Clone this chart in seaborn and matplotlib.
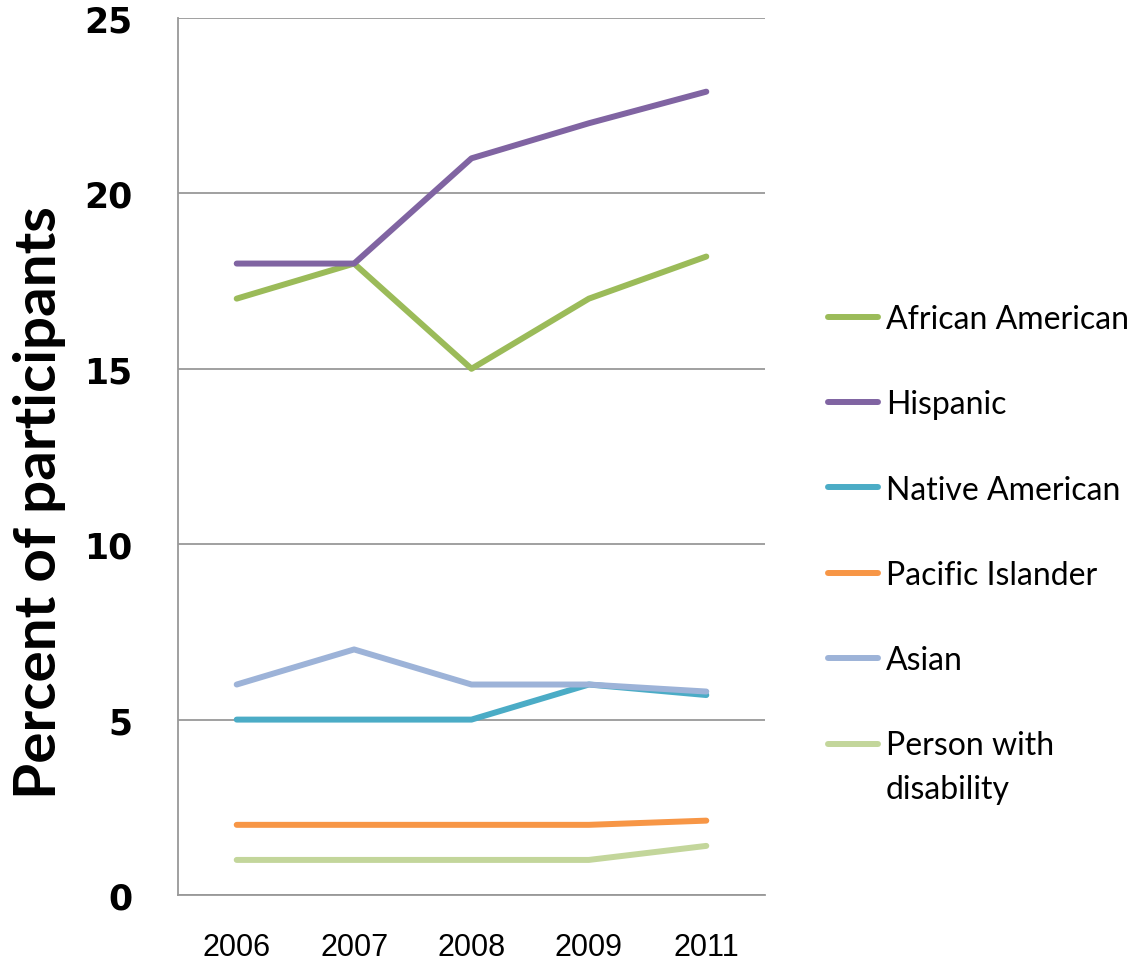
import matplotlib
matplotlib.use("Agg")
import matplotlib.pyplot as plt
import seaborn as sns
import pandas as pd
from matplotlib.lines import Line2D
from matplotlib.legend_handler import HandlerLine2D

years = ["2006", "2007", "2008", "2009", "2011"]
african_american = [17, 18, 15, 17, 18.2]
hispanic = [18, 18, 21, 22, 22.9]
native_american = [5, 5, 5, 6, 5.7]
pacific_islander = [2, 2, 2, 2, 2.12]
asian = [6, 7, 6, 6, 5.8]
disability = [1, 1, 1, 1, 1.4]

series_names = ["African American", "Hispanic", "Native American",
                "Pacific Islander", "Asian", "Person with\ndisability"]
series_vals = [african_american, hispanic, native_american,
               pacific_islander, asian, disability]
colors = ["#9BBB59", "#8064A2", "#4BACC6", "#F79646", "#9DB3D8", "#C3D69B"]

rows = []
for name, vals in zip(series_names, series_vals):
    for i, (y, v) in enumerate(zip(years, vals)):
        rows.append({"idx": i, "year": y, "value": v, "series": name})
df = pd.DataFrame(rows)

sns.set_style("white")
plt.rcParams["text.color"] = "black"
plt.rcParams["xtick.color"] = "black"
plt.rcParams["ytick.color"] = "black"
plt.rcParams["axes.labelcolor"] = "black"

fig = plt.figure(figsize=(11.45, 9.62), dpi=100)
ax = fig.add_axes([178/1145, 1-896/962, (765-178)/1145, (896-19)/962])

sns.lineplot(data=df, x="idx", y="value", hue="series", hue_order=series_names,
             palette=colors, linewidth=4.3, ax=ax, legend=False,
             solid_capstyle="round", solid_joinstyle="round", sort=False)

ax.set_xlim(-0.5, 4.5)
ax.set_ylim(0, 25)
ax.set_xticks(range(len(years)))
ax.set_xticklabels(years, fontsize=22, family="Liberation Sans")
ax.set_yticks([0, 5, 10, 15, 20, 25])
ax.set_yticklabels(["0", "5", "10", "15", "20", "25"], fontsize=25,
                   fontweight="bold", family="DejaVu Sans")
ax.tick_params(axis="x", length=0, pad=27, labelcolor="black")
ax.tick_params(axis="y", length=0, pad=33, labelcolor="black")
ax.yaxis.grid(True, color="#999999", linewidth=1.3)
ax.set_axisbelow(True)
for s in ["top", "right"]:
    ax.spines[s].set_visible(False)
for s in ["left", "bottom"]:
    ax.spines[s].set_color("#999999")
    ax.spines[s].set_linewidth(1.3)
ax.set_xlabel("")
ax.set_ylabel("Percent of participants", fontsize=42, fontweight="bold",
              family="Lato", color="black")
ax.yaxis.set_label_coords(-0.19, 0.449)


class ShiftedLineHandler(HandlerLine2D):
    def __init__(self, shift_pts, **kw):
        super().__init__(**kw)
        self.shift_pts = shift_pts

    def create_artists(self, legend, orig_handle, xdescent, ydescent,
                       width, height, fontsize, trans):
        arts = super().create_artists(legend, orig_handle, xdescent, ydescent,
                                      width, height, fontsize, trans)
        for a in arts:
            a.set_ydata([y + self.shift_pts for y in a.get_ydata()])
        return arts


handles = [Line2D([0], [0], color=c, linewidth=4.3) for c in colors]
leg = ax.legend(handles, series_names, loc="center left",
                bbox_to_anchor=(1.058, 0.389), frameon=False,
                prop={"family": "Lato", "size": 23},
                handlelength=1.57, handletextpad=0.25, labelspacing=1.73,
                handler_map={handles[-1]: ShiftedLineHandler(17)})
for t in leg.get_texts():
    t.set_linespacing(1.55)
    t.set_color("black")

fig.savefig("out.png", dpi=100)
